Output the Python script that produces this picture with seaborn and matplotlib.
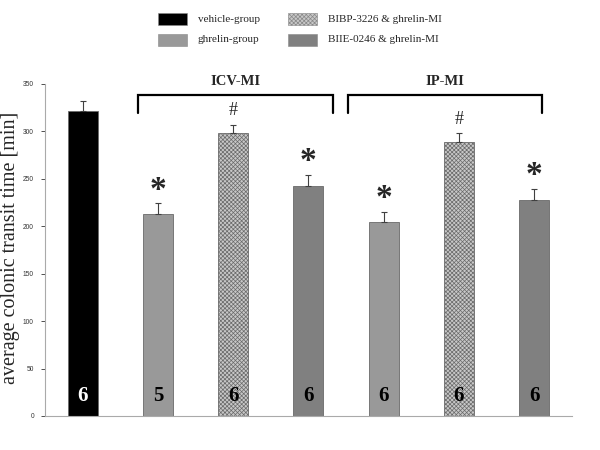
import matplotlib
matplotlib.use("Agg")
import matplotlib.pyplot as plt
import seaborn as sns
import pandas as pd
from matplotlib.patches import Rectangle

groups = ["vehicle", "ghrelin ICV", "BIBP ICV", "BIIE ICV", "ghrelin IP", "BIBP IP", "BIIE IP"]
means = [322, 213, 298, 242, 205, 289, 228]
errors = [10, 11, 9, 12, 10, 9, 11]
counts = ["6", "5", "6", "6", "6", "6", "6"]
marks = ["", "*", "#", "*", "*", "#", "*"]
legend_labels = ["vehicle-group", "ghrelin-group", "BIBP-3226 & ghrelin-MI", "BIIE-0246 & ghrelin-MI"]
bracket_labels = ["ICV-MI", "IP-MI"]
y_label = "average colonic transit time [min]"

c_vehicle = "#000000"
c_ghrelin = "#999999"
c_bibp = "#c8c8c8"
c_biie = "#808080"
palette = [c_vehicle, c_ghrelin, c_bibp, c_biie, c_ghrelin, c_bibp, c_biie]

sns.set_theme(style="white")
plt.rcParams["font.family"] = ["Liberation Serif", "DejaVu Serif"]
plt.rcParams["hatch.linewidth"] = 0.5
plt.rcParams["hatch.color"] = "#6a6a6a"

df = pd.DataFrame({"group": groups, "mean": means})

fig = plt.figure(figsize=(6, 4.5), dpi=100)
ax = fig.add_axes([0.075, 0.0756, 0.878, 0.7378])

sns.barplot(data=df, x="group", y="mean", hue="group", palette=palette,
            width=0.4, legend=False, ax=ax, edgecolor="#6a6a6a", linewidth=0.6,
            errorbar=None)

for i, p in enumerate(ax.patches):
    if groups[i].startswith("BIBP"):
        p.set_hatch("xxxxxxxx")

ax.errorbar(range(len(groups)), means, yerr=[[0] * len(errors), errors], fmt="none",
            ecolor="#404040", elinewidth=0.8, capsize=2, capthick=0.8)

ax.set_xlim(-0.5, len(groups) - 0.5)
ax.set_ylim(0, 350)
ax.set_yticks(range(0, 351, 50))
ax.tick_params(axis="y", labelsize=4.8, colors="#333333", length=3, width=0.6, direction="out", pad=5,
               left=True)
for lab in ax.get_yticklabels():
    lab.set_family(["Liberation Sans", "DejaVu Sans"])
ax.set_xticks(range(len(groups)))
ax.set_xticklabels([""] * len(groups))
ax.tick_params(axis="x", length=0)
ax.set_xlabel("")
ax.set_ylabel(y_label, fontsize=14.5)
ax.yaxis.set_label_coords(-0.047, 0.505)
for s in ["top", "right"]:
    ax.spines[s].set_visible(False)
for s in ["left", "bottom"]:
    ax.spines[s].set_color("#aaaaaa")
    ax.spines[s].set_linewidth(0.8)

# counts at bar bottoms
for i, c in enumerate(counts):
    ax.text(i, 21, c, ha="center", va="center", fontsize=15, fontweight="bold",
            color="white" if i == 0 else "black")

# significance marks
for i, m in enumerate(marks):
    if not m:
        continue
    top = means[i] + errors[i]
    if m == "*":
        ax.text(i, top + 14, m, ha="center", va="center", fontsize=24, fontweight="bold")
    else:
        ax.text(i, top + 15, m, ha="center", va="center", fontsize=13)

# brackets
brackets = [(0.74, 3.33), (3.53, 6.1)]
for (x0, x1), lab in zip(brackets, bracket_labels):
    ax.plot([x0, x0, x1, x1], [319, 338.5, 338.5, 319], color="black", lw=1.6,
            clip_on=False, solid_joinstyle="miter")
    ax.text((x0 + x1) / 2, 353, lab, ha="center", va="center", fontsize=10.5,
            fontweight="bold", clip_on=False)

# legend
leg_colors = [c_vehicle, c_ghrelin, c_bibp, c_biie]
leg_pos = [(158, 13), (158, 34), (288, 13), (288, 34)]
for (px, py), col, lab in zip(leg_pos, leg_colors, legend_labels):
    r = Rectangle((px / 600, 1 - (py + 12) / 450), 29 / 600, 12 / 450,
                  transform=fig.transFigure, facecolor=col, edgecolor="#888888", lw=0.4)
    if col == c_bibp:
        r.set_hatch("xxxxxxxx")
    fig.add_artist(r)
    fig.text((px + 40) / 600, 1 - (py + 6) / 450, lab, ha="left", va="center", fontsize=8)

fig.savefig("out.png", dpi=100)
